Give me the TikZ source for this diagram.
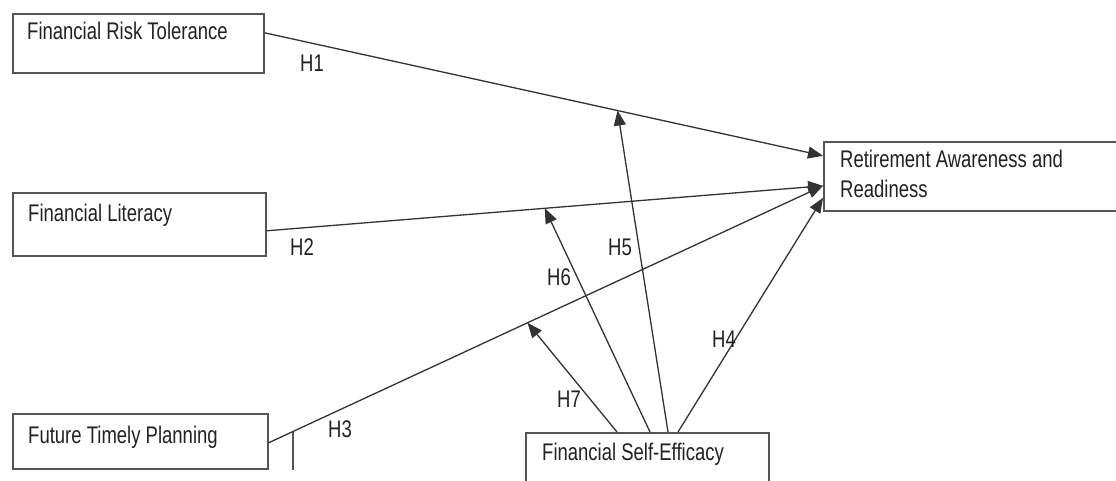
\documentclass[tikz,border=0pt]{standalone}
\usepackage{fontspec}
\setmainfont{Liberation Sans}
\usetikzlibrary{arrows.meta}

\definecolor{boxgrey}{HTML}{555555}
\definecolor{linegrey}{HTML}{333333}
\definecolor{txtgrey}{HTML}{222222}

% tall narrow look of the printed text
\newcommand{\tall}[1]{\scalebox{1}[1.3]{#1}}

\begin{document}
\begin{tikzpicture}[x=1pt, y=-1pt,
    varbox/.style={draw=boxgrey, line width=1.6pt, anchor=north west, inner sep=0pt},
    vartext/.style={anchor=base west, inner sep=0pt, text=txtgrey, font=\fontsize{18.5}{22}\selectfont},
    hyp/.style={vartext},
    link/.style={draw=linegrey, line width=1.3pt, -{Triangle[length=15pt, width=12pt]}},
  ]
  \fill[white] (0,0) rectangle (1116,481);
  \useasboundingbox (0,0) rectangle (1116,481);

  % boxes
  \node[varbox, minimum width=251pt, minimum height=59pt] (risk) at (12,13) {};
  \node[varbox, minimum width=253pt, minimum height=63pt] (literacy) at (12,192) {};
  \node[varbox, minimum width=255pt, minimum height=55pt] (planning) at (12,413) {};
  \node[varbox, minimum width=300pt, minimum height=69pt] (ready) at (823,141) {};
  \node[varbox, minimum width=243pt, minimum height=60pt] (efficacy) at (525,432) {};

  % box texts
  \node[vartext] (risktext) at ([xshift=15pt, yshift=-27pt]risk.north west) {\tall{Financial Risk Tolerance}};
  \node[vartext] (literacytext) at ([xshift=16pt, yshift=-30pt]literacy.north west) {\tall{Financial Literacy}};
  \node[vartext] (planningtext) at ([xshift=16pt, yshift=-30pt]planning.north west) {\tall{Future Timely Planning}};
  \node[vartext] (readytext) at ([xshift=17pt, yshift=-27pt]ready.north west) {\tall{Retirement Awareness and}};
  \node[vartext] (readytextb) at ([xshift=17pt, yshift=-56pt]ready.north west) {\tall{Readiness}};
  \node[vartext] (efficacytext) at ([xshift=17pt, yshift=-28pt]efficacy.north west) {\tall{Financial Self-Efficacy}};

  % direct paths
  \draw[link] ([yshift=10.5pt]risk.east) -- coordinate[pos=0.632] (hamid) ([yshift=20.5pt]ready.west);
  \draw[link] ([yshift=-6.5pt]literacy.east) -- coordinate[pos=0.5] (hbmid) ([yshift=-9.5pt]ready.west);
  \draw[link] ([yshift=-1.5pt]planning.east) -- coordinate[pos=0.467] (hcmid) ([yshift=-9.5pt]ready.west);
  \draw[link] ([xshift=153pt]efficacy.north west) -- ([yshift=-21.5pt]ready.west);

  % moderation paths
  \draw[link] ([xshift=143pt]efficacy.north west) -- (hamid);
  \draw[link] ([xshift=125pt]efficacy.north west) -- (hbmid);
  \draw[link] ([xshift=92pt]efficacy.north west) -- (hcmid);

  % stray tick
  \coordinate (ticktop) at (293,432);
  \coordinate (tickbot) at (293,470);
  \draw[boxgrey, line width=1.2pt] (ticktop) -- (tickbot);

  % hypothesis labels
  \node[hyp] (h1) at (300,72) {\tall{H1}};
  \node[hyp] (h2) at (290,255) {\tall{H2}};
  \node[hyp] (h3) at (328,437) {\tall{H3}};
  \node[hyp] (h4) at (712,347) {\tall{H4}};
  \node[hyp] (h5) at (608,255) {\tall{H5}};
  \node[hyp] (h6) at (547,285) {\tall{H6}};
  \node[hyp] (h7) at (557,407) {\tall{H7}};
\end{tikzpicture}
\end{document}
